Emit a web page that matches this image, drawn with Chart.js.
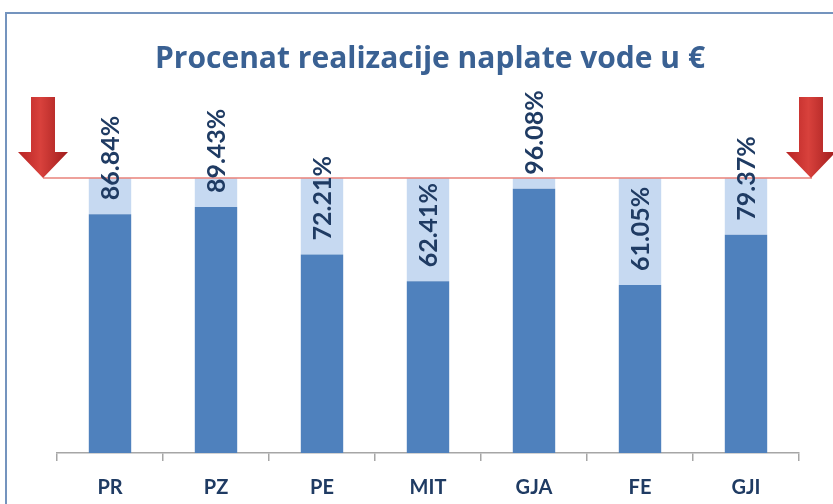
<!DOCTYPE html>
<html>
<head>
<meta charset="utf-8">
<script src="https://cdn.jsdelivr.net/npm/chart.js@4"></script>
<style>
html,body{margin:0;padding:0;background:#fff;}
#wrap{width:833px;height:504px;position:relative;}
</style>
</head>
<body>
<div id="wrap"><canvas id="c" width="833" height="504"></canvas></div>
<script>
const chartTitle = "Procenat realizacije naplate vode u €";
const categories = ["PR", "PZ", "PE", "MIT", "GJA", "FE", "GJI"];
const realized = [0.8684, 0.8943, 0.7221, 0.6241, 0.9608, 0.6105, 0.7937];
const target = 1;
const remainder = realized.map(v => target - v);
const valueLabels = realized.map(v => (v * 100).toFixed(2) + "%");

const decor = {
  id: 'decor',
  beforeDraw(chart) {
    const ctx = chart.ctx;
    ctx.save();
    ctx.fillStyle = '#fff';
    ctx.fillRect(0, 0, chart.width, chart.height);
    ctx.strokeStyle = '#7494BE';
    ctx.lineWidth = 2;
    ctx.strokeRect(6, 13, 900, 600);
    ctx.fillStyle = '#3A6193';
    ctx.font = 'bold 30px "Open Sans"';
    ctx.textAlign = 'center';
    ctx.textBaseline = 'alphabetic';
    ctx.fillText(chartTitle, 430, 68);
    ctx.restore();
  },
  afterDatasetsDraw(chart) {
    const ctx = chart.ctx;
    const ys = chart.scales.y;
    const ly = ys.getPixelForValue(target);
    ctx.save();
    ctx.strokeStyle = '#E9827A';
    ctx.lineWidth = 1.5;
    ctx.beginPath();
    ctx.moveTo(43, ly);
    ctx.lineTo(812, ly);
    ctx.stroke();
    function arrow(cx) {
      const top = 97, headY = 152, tip = ly, sw = 12, hw = 25;
      const g = ctx.createLinearGradient(cx - hw, 0, cx + hw, 0);
      g.addColorStop(0, '#B82424');
      g.addColorStop(0.45, '#D8413C');
      g.addColorStop(1, '#A01C1C');
      ctx.fillStyle = g;
      ctx.beginPath();
      ctx.moveTo(cx - sw, top);
      ctx.lineTo(cx + sw, top);
      ctx.lineTo(cx + sw, headY);
      ctx.lineTo(cx + hw, headY);
      ctx.lineTo(cx, tip);
      ctx.lineTo(cx - hw, headY);
      ctx.lineTo(cx - sw, headY);
      ctx.closePath();
      ctx.fill();
    }
    arrow(43);
    arrow(811);
    const meta = chart.getDatasetMeta(0);
    ctx.fillStyle = '#1F3B63';
    ctx.font = 'bold 25px Lato';
    ctx.textAlign = 'left';
    ctx.textBaseline = 'middle';
    meta.data.forEach((bar, i) => {
      const y = ys.getPixelForValue(realized[i]) - 14;
      ctx.save();
      ctx.translate(bar.x, y);
      ctx.rotate(-Math.PI / 2);
      ctx.fillText(valueLabels[i], 0, 1);
      ctx.restore();
    });
    ctx.restore();
  }
};

new Chart(document.getElementById('c'), {
  type: 'bar',
  data: {
    labels: categories,
    datasets: [
      { data: realized, backgroundColor: '#4F81BD', stack: 's' },
      { data: remainder, backgroundColor: '#C6D9F1', stack: 's' }
    ]
  },
  options: {
    responsive: false,
    animation: false,
    devicePixelRatio: 1,
    layout: { padding: { left: 57, right: 34, top: 95.5, bottom: 0 } },
    plugins: { legend: { display: false }, title: { display: false }, tooltip: { enabled: false } },
    datasets: { bar: { categoryPercentage: 1, barPercentage: 0.4 } },
    scales: {
      x: {
        stacked: true,
        afterFit(scale) { scale.height = 51; },
        grid: { offset: true, drawOnChartArea: false, drawTicks: true, tickLength: 8, color: '#A6A6A6', lineWidth: 1.5 },
        border: { display: true, color: '#A6A6A6', width: 1.5 },
        ticks: { color: '#1F3B63', font: { family: 'Lato', size: 20, weight: 'bold' }, padding: 15 }
      },
      y: { stacked: true, display: false, min: 0, max: 1.3 }
    }
  },
  plugins: [decor]
});
</script>
</body>
</html>
